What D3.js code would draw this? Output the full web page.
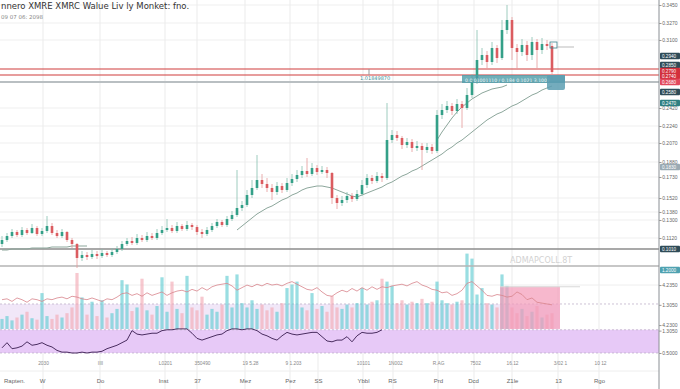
<!DOCTYPE html>
<html>
<head>
<meta charset="utf-8">
<script src="https://cdn.jsdelivr.net/npm/d3@7"></script>
<style>
  body { margin: 0; background: #fff; }
  svg { display: block; font-family: 'DejaVu Sans', sans-serif; }
  .axis-text { font-family: 'Liberation Sans', Arial, sans-serif; }
</style>
</head>
<body>
<svg id="chart" width="680" height="389"></svg>
<script>
// price candles (open = previous close)
const firstOpen = 0.106;
const closes = [
  0.110,0.114,0.118,0.115,0.120,0.117,0.122,0.116,0.119,0.124,
  0.117,0.114,0.118,0.110,0.106,0.092,0.095,0.093,0.096,0.094,
  0.097,0.095,0.098,0.101,0.106,0.109,0.107,0.112,0.110,0.114,
  0.112,0.117,0.120,0.122,0.119,0.124,0.121,0.125,0.123,0.118,
  0.116,0.120,0.124,0.128,0.125,0.131,0.135,0.142,0.145,0.155,
  0.162,0.170,0.166,0.162,0.158,0.164,0.160,0.167,0.171,0.175,
  0.179,0.176,0.182,0.178,0.180,0.177,0.152,0.147,0.150,0.154,
  0.151,0.156,0.165,0.172,0.169,0.174,0.172,0.210,0.215,0.212,
  0.205,0.208,0.202,0.204,0.200,0.203,0.199,0.235,0.240,0.244,
  0.239,0.246,0.242,0.255,0.270,0.290,0.295,0.288,0.302,0.292,
  0.320,0.330,0.302,0.298,0.305,0.295,0.308,0.300,0.306,0.304,
  0.278
];
const highs = [
  0.114,0.117,0.121,0.120,0.123,0.122,0.126,0.124,0.122,0.134,
  0.127,0.120,0.121,0.119,0.112,0.107,0.099,0.098,0.100,0.099,
  0.101,0.099,0.102,0.104,0.109,0.112,0.113,0.116,0.115,0.118,
  0.117,0.121,0.124,0.131,0.125,0.128,0.126,0.129,0.127,0.125,
  0.121,0.123,0.127,0.131,0.130,0.134,0.139,0.180,0.149,0.160,
  0.170,0.195,0.176,0.172,0.166,0.168,0.167,0.172,0.176,0.180,
  0.184,0.192,0.187,0.185,0.184,0.183,0.178,0.155,0.154,0.158,
  0.157,0.160,0.170,0.176,0.175,0.178,0.177,0.247,0.220,0.219,
  0.214,0.212,0.211,0.209,0.207,0.207,0.206,0.240,0.246,0.249,
  0.247,0.251,0.249,0.262,0.276,0.320,0.302,0.299,0.308,0.305,
  0.330,0.345,0.333,0.306,0.311,0.309,0.313,0.311,0.312,0.310,
  0.307
];
const lows = [
  0.103,0.108,0.112,0.113,0.113,0.115,0.116,0.114,0.114,0.117,
  0.115,0.112,0.112,0.108,0.102,0.082,0.089,0.090,0.091,0.091,
  0.092,0.093,0.093,0.096,0.099,0.104,0.105,0.105,0.108,0.108,
  0.110,0.110,0.115,0.118,0.117,0.117,0.119,0.119,0.120,0.115,
  0.112,0.114,0.118,0.122,0.123,0.123,0.129,0.133,0.139,0.143,
  0.152,0.160,0.162,0.158,0.150,0.155,0.157,0.158,0.164,0.168,
  0.172,0.173,0.174,0.175,0.176,0.172,0.146,0.141,0.144,0.147,
  0.148,0.149,0.154,0.162,0.166,0.167,0.168,0.170,0.207,0.209,
  0.201,0.202,0.198,0.199,0.180,0.197,0.196,0.197,0.231,0.237,
  0.235,0.236,0.222,0.240,0.252,0.266,0.285,0.282,0.285,0.287,
  0.290,0.316,0.290,0.280,0.294,0.289,0.290,0.282,0.296,0.300,
  0.270
];

// moving averages, as segments with their first candle index
const maSlowStartA = 0;
const maSlowA = [0.100,0.100,0.101,0.101,0.101,0.101,0.102,0.102,0.102,0.102,0.103,0.103,0.103,0.103,0.104,0.104,0.104,0.104];
const maSlowStartB = 47;
const maSlowB = [
  0.120,0.124,0.128,0.132,0.136,0.139,0.142,0.144,0.147,0.150,0.152,0.155,0.157,0.160,0.162,0.163,0.164,0.164,0.163,
  0.162,0.160,0.158,0.156,0.154,0.153,0.155,0.157,0.159,0.161,0.163,0.166,0.168,0.171,0.174,0.176,0.179,0.181,0.184,
  0.187,0.190,0.193,0.196,0.200,0.203,0.207,0.210,0.214,0.218,0.222,0.226,0.230,0.233,0.236,0.238,0.241,0.244,0.246,
  0.249,0.252,0.255,0.257,0.260,0.262,0.264
];
const maFastStart = 87;
const maFast = [0.210,0.218,0.225,0.232,0.238,0.243,0.247,0.251,0.254,0.257,0.259,0.261,0.262,0.263,0.265];

// volume per candle
const volumes = [
  14,18,12,16,20,24,15,13,50,18,
  14,20,16,22,30,78,44,20,38,18,
  40,16,22,28,68,62,25,30,70,26,
  20,32,72,24,66,28,22,74,30,26,
  45,20,28,24,34,74,30,76,36,30,
  40,28,34,26,30,24,36,57,62,66,
  30,26,50,28,32,24,46,30,28,34,
  30,36,57,34,38,40,70,66,60,36,
  40,34,38,36,42,36,38,66,40,36,
  34,38,40,105,98,48,57,36,34,30,
  76,60,30,22,28,18,24,32,16,20,
  22
];

// lower pane oscillators
const oscRed = [
  62,63,60,64,62,59,63,62,60,63,
  62,64,65,63,66,65,63,62,64,62,
  60,63,62,65,69,70,67,69,66,70,
  67,69,71,67,70,72,73,71,74,72,
  76,73,77,79,80,81,78,73,76,79,
  77,80,78,81,79,80,78,81,83,80,
  77,74,73,76,71,67,66,70,73,71,
  75,72,76,73,77,74,77,76,78,79,
  80,78,81,83,79,77,74,73,70,71,
  67,69,73,81,83,78,73,67,66,68,
  67,65,66,71,68,62,64,59,58,57,
  56
];
const oscPurple = [
  6,12,5,6,8,13,9,10,12,9,
  7,3,1,1,0,0,1,0,1,1,
  2,5,7,9,12,15,26,22,21,22,
  23,23,26,27,27,28,28,28,23,17,
  15,17,19,21,22,26,28,28,27,28,
  28,26,22,20,17,15,20,24,22,21,
  22,23,24,24,19,14,13,15,15,19,
  13,20,24,23,23,24,27
];

// levels
const redLevels = [0.281, 0.275];
const greyLevel = 0.268;
const bandUpper = 57, bandMid = 28, bandLower = 0;
const boxLevel = 77;

// right axis
const priceTicks = [0.345, 0.327, 0.310, 0.242, 0.224, 0.207, 0.188, 0.173, 0.152, 0.138, 0.130, 0.112];
const oscTicks = [79, 56, 32.5, 26, 0];
const oscTickLabels = ['4.2350', '1.3050', '4.2300', '1.3050', '0.5000'];
const tagPrices = [0.294, 0.285, 0.279, 0.274, 0.268, 0.258, 0.247, 0.183, 0.101];
const tagKinds = ['slate', 'slate', 'red', 'red', 'rose', 'slate', 'teal', 'grey', 'slate'];

// bottom axis
const xBottomIdx = [2.4, 8, 19.6, 32.2, 39, 48.6, 57.6, 63.2, 72.2, 78, 87.2, 94.2, 102, 111.2, 119.4];
const xBottomLabels = ['Rapten.', 'W', 'Do', 'Inst', '37', 'Mez', 'Pez', 'SS', 'Ybbl', 'RS', 'Prd', 'Dcd', 'Z1le', '13', 'Rgo'];
const xGridIdx = [8.2, 19.6, 32.6, 39, 48.6, 57.6, 63.2, 72.2, 78.2, 87.2, 94.4, 102, 111.2, 119.4];
const xTopIdx = [8.2, 19.6, 32.6, 40, 49.6, 58.2, 72.2, 78.6, 87.2, 94.6, 102, 111.6, 119.6];
const xTopLabels = ['2030', 'IIII', 'L0201', '350490', '19 5.28', '9 1.203', '10101', '1N002', 'R.AG', '7502', '16.12', '3/02 1', '10 12'];

const axisX = 659;
const svg = d3.select('#chart');

const x = d3.scaleLinear().domain([0, closes.length - 1]).range([2, 552]);
const y = d3.scaleLinear().domain([0.100, 0.350]).range([250, 0]);
const yVol = d3.scaleLinear().domain([0, 110]).range([329, 250]);
const yOsc = d3.scaleLinear().domain([0, 100]).range([353, 267]);

const tagColors = { slate: '#2f4c58', red: '#d3303c', rose: '#e2485c', teal: '#2f7f82', grey: '#9aaab3' };

const candles = closes.map((c, i) => {
  return { i: i, o: i ? closes[i - 1] : firstOpen, c: c, h: highs[i], l: lows[i], v: volumes[i] };
});

// grid
const grid = svg.append('g');
grid.selectAll('line.v').data(xGridIdx).enter()
  .append('line')
  .attr('x1', (d) => { return x(d); }).attr('x2', (d) => { return x(d); })
  .attr('y1', 0).attr('y2', 389)
  .attr('stroke', '#e6e6e6').attr('stroke-width', 0.8);
grid.selectAll('line.h').data(priceTicks).enter()
  .append('line')
  .attr('x1', 0).attr('x2', axisX)
  .attr('y1', (d) => { return y(d); }).attr('y2', (d) => { return y(d); })
  .attr('stroke', '#ebebeb').attr('stroke-width', 0.8);
grid.append('line')
  .attr('x1', 0).attr('x2', axisX).attr('y1', 371).attr('y2', 371)
  .attr('stroke', '#eeeeee');

// lower pane bands
svg.append('rect')
  .attr('x', 0).attr('width', x(111.6))
  .attr('y', yOsc(bandUpper)).attr('height', yOsc(bandMid) - yOsc(bandUpper))
  .attr('fill', '#f1e7f8');
svg.append('rect')
  .attr('x', 0).attr('width', axisX)
  .attr('y', yOsc(bandMid - 1)).attr('height', yOsc(bandLower) - yOsc(bandMid - 1))
  .attr('fill', '#e7c9f7');
[bandUpper, bandMid - 1, bandLower].forEach((v) => {
  svg.append('line')
    .attr('x1', 0).attr('x2', axisX).attr('y1', yOsc(v)).attr('y2', yOsc(v))
    .attr('stroke', '#b9a9c4').attr('stroke-width', 0.7).attr('stroke-dasharray', '2,2');
});
svg.append('line')
  .attr('x1', 0).attr('x2', axisX)
  .attr('y1', yOsc(oscTicks[0])).attr('y2', yOsc(oscTicks[0]))
  .attr('stroke', '#eeeeee');

// volume bars
svg.append('g').selectAll('rect').data(candles).enter()
  .append('rect')
  .attr('x', (d) => { return x(d.i) - 1.6; })
  .attr('width', 3.2)
  .attr('y', (d) => { return yVol(d.v); })
  .attr('height', (d) => { return yVol(0) - yVol(d.v); })
  .attr('fill', (d) => { return d.c >= d.o ? '#62cdd2' : '#f2aab6'; })
  .attr('fill-opacity', 0.65);

// pink box
svg.append('rect')
  .attr('x', x(99.6)).attr('width', x(111.6) - x(99.6))
  .attr('y', yOsc(boxLevel)).attr('height', yOsc(bandMid) - yOsc(boxLevel))
  .attr('fill', '#f49ab8').attr('fill-opacity', 0.7);
svg.append('line')
  .attr('x1', x(99.6)).attr('x2', x(115.6)).attr('y1', yOsc(boxLevel)).attr('y2', yOsc(boxLevel))
  .attr('stroke', '#d8d8d8');

// oscillator lines
svg.append('path').datum(oscRed)
  .attr('fill', 'none').attr('stroke', '#d8848c').attr('stroke-width', 0.8)
  .attr('d', d3.line().x((d, i) => { return x(i); }).y((d) => { return yOsc(d); }));
svg.append('path').datum(oscPurple)
  .attr('fill', 'none').attr('stroke', '#4a2d60').attr('stroke-width', 1)
  .attr('d', d3.line().x((d, i) => { return x(i); }).y((d) => { return yOsc(d); }));

// pane separators
svg.append('line').attr('x1', 0).attr('x2', axisX).attr('y1', 249).attr('y2', 249)
  .attr('stroke', '#8d8d8d').attr('stroke-width', 1.5);
svg.append('line').attr('x1', 0).attr('x2', axisX).attr('y1', 266).attr('y2', 266)
  .attr('stroke', '#b5b5b5').attr('stroke-width', 1.5);
svg.append('text').attr('x', 510).attr('y', 263)
  .attr('font-size', '8px').attr('fill', '#d2d2d2').text('ADMAPCOLL.8T');

// moving averages
function drawMa(values, start) {
  svg.append('path').datum(values)
    .attr('fill', 'none').attr('stroke', '#8da79c').attr('stroke-width', 1)
    .attr('d', d3.line().x((d, i) => { return x(start + i); }).y((d) => { return y(d); }));
}
drawMa(maSlowA, maSlowStartA);
drawMa(maSlowB, maSlowStartB);
drawMa(maFast, maFastStart);

// levels
svg.append('line').attr('x1', 0).attr('x2', axisX)
  .attr('y1', y(greyLevel)).attr('y2', y(greyLevel))
  .attr('stroke', '#b9bfc2').attr('stroke-width', 2.2);
svg.selectAll('line.red').data(redLevels).enter()
  .append('line')
  .attr('x1', 0).attr('x2', axisX)
  .attr('y1', (d) => { return y(d); }).attr('y2', (d) => { return y(d); })
  .attr('stroke', '#cf3d3d').attr('stroke-width', 1.2);
svg.append('line').attr('x1', 369).attr('x2', 369)
  .attr('y1', y(redLevels[0])).attr('y2', y(redLevels[1]))
  .attr('stroke', '#999');
svg.append('text').attr('x', 360).attr('y', y(greyLevel) - 2.5)
  .attr('font-size', '5px').attr('fill', '#3e9096').text('1.01849870');

// candles
const candleG = svg.append('g');
candleG.selectAll('line').data(candles).enter()
  .append('line')
  .attr('x1', (d) => { return x(d.i); }).attr('x2', (d) => { return x(d.i); })
  .attr('y1', (d) => { return y(d.h); }).attr('y2', (d) => { return y(d.l); })
  .attr('stroke', (d) => { return d.c >= d.o ? '#86bfae' : '#e59a9a'; })
  .attr('stroke-width', 0.8);
candleG.selectAll('rect').data(candles).enter()
  .append('rect')
  .attr('x', (d) => { return x(d.i) - 1.3; })
  .attr('width', 2.6)
  .attr('y', (d) => { return y(Math.max(d.o, d.c)); })
  .attr('height', (d) => { return Math.max(1, Math.abs(y(d.o) - y(d.c))); })
  .attr('fill', (d) => { return d.c >= d.o ? '#34a088' : '#db5c60'; });

// highlight box at the grey level
svg.append('rect')
  .attr('x', x(92)).attr('width', x(112.6) - x(92))
  .attr('y', y(redLevels[1])).attr('height', y(greyLevel - 0.001) - y(redLevels[1]))
  .attr('fill', '#4b9ba7').attr('fill-opacity', 0.8);
svg.append('text').attr('x', x(92) + 3).attr('y', y(greyLevel) - 0.5)
  .attr('font-size', '4.6px').attr('fill', '#e8f4f6')
  .text('0.0 01001110 / 0.184 0.1021 3.1007');
svg.append('rect')
  .attr('x', x(109)).attr('width', x(112.6) - x(109))
  .attr('y', y(redLevels[1])).attr('height', y(0.260) - y(redLevels[1]))
  .attr('rx', 2)
  .attr('fill', '#5c9db2').attr('fill-opacity', 0.85);
svg.append('rect')
  .attr('x', x(109.6)).attr('width', x(111) - x(109.6))
  .attr('y', y(0.308)).attr('height', y(0.302) - y(0.308))
  .attr('fill', 'none').attr('stroke', '#3a7f8a').attr('stroke-width', 0.8);
svg.append('line').attr('x1', x(111)).attr('x2', x(114.4))
  .attr('y1', y(0.303)).attr('y2', y(0.303))
  .attr('stroke', '#aaa').attr('stroke-width', 0.8);

// right axis
svg.append('line').attr('x1', axisX).attr('x2', axisX).attr('y1', 0).attr('y2', 389)
  .attr('stroke', '#8a8f94').attr('stroke-width', 1);
const priceAxis = svg.append('g').attr('transform', `translate(${axisX},0)`)
  .call(d3.axisRight(y).tickValues(priceTicks).tickSize(2.5).tickFormat(d3.format('.4f')));
const oscAxis = svg.append('g').attr('transform', `translate(${axisX},0)`)
  .call(d3.axisRight(yOsc).tickValues(oscTicks).tickSize(2.5).tickFormat((d, i) => { return oscTickLabels[i]; }));
[priceAxis, oscAxis].forEach((g) => {
  g.select('.domain').remove();
  g.selectAll('line').attr('stroke', '#999');
  g.selectAll('text').attr('class', 'axis-text')
    .attr('font-size', '5px').attr('fill', '#666').attr('x', 3.2);
});

// price tags
const tags = svg.append('g').selectAll('g').data(tagPrices).enter()
  .append('g').attr('transform', (d) => { return `translate(${axisX + 1},${y(d)})`; });
tags.append('rect').attr('x', 0).attr('y', -3.3).attr('width', 20).attr('height', 6.6)
  .attr('rx', 1)
  .attr('fill', (d, i) => { return tagColors[tagKinds[i]]; });
tags.append('text').attr('class', 'axis-text').attr('x', 2).attr('y', 1.7)
  .attr('font-size', '4.6px').attr('fill', '#fff')
  .text((d) => { return d3.format('.4f')(d); });
const oscTag = svg.append('g').attr('transform', `translate(${axisX + 1},${yOsc(96.5)})`);
oscTag.append('rect').attr('x', 0).attr('y', -3.3).attr('width', 20).attr('height', 6.6)
  .attr('rx', 1).attr('fill', '#4fa2b1');
oscTag.append('text').attr('class', 'axis-text').attr('x', 2).attr('y', 1.7)
  .attr('font-size', '4.6px').attr('fill', '#fff').text('1.2000');

// bottom axis rows
const topAxis = svg.append('g').attr('transform', 'translate(0,359)')
  .call(d3.axisBottom(x).tickValues(xTopIdx).tickSize(0).tickFormat((d, i) => { return xTopLabels[i]; }));
const bottomAxis = svg.append('g').attr('transform', 'translate(0,376)')
  .call(d3.axisBottom(x).tickValues(xBottomIdx).tickSize(0).tickFormat((d, i) => { return xBottomLabels[i]; }));
[topAxis, bottomAxis].forEach((g) => {
  g.select('.domain').remove();
});
topAxis.selectAll('text').attr('font-size', '4.8px').attr('fill', '#888');
bottomAxis.selectAll('text').attr('font-size', '6px').attr('fill', '#666');

// title
svg.append('text').attr('x', 1).attr('y', 9)
  .attr('font-size', '8.5px').attr('fill', '#333')
  .text('nnero XMRE XMRC Walue Liv ly Monket: fno.');
svg.append('text').attr('x', 1).attr('y', 19)
  .attr('font-size', '5.5px').attr('fill', '#888')
  .text('09 07 06: 2098');
</script>
</body>
</html>
